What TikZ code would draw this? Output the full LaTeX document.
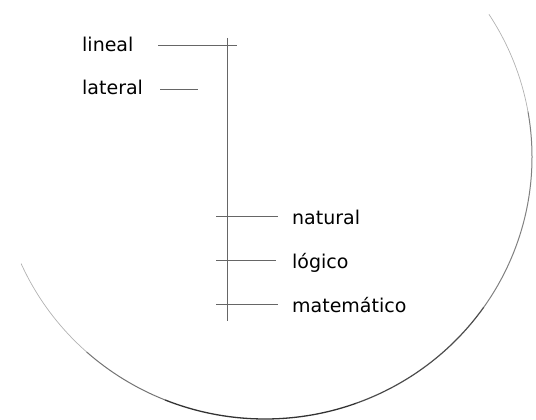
\documentclass[tikz,border=0pt]{standalone}
\usepackage{fontspec}
\setmainfont{DejaVu Sans}
\begin{document}
\begin{tikzpicture}[x=1pt,y=1pt,
  lbl/.style={anchor=base west,inner sep=0pt,text=black,font=\fontsize{19}{23}\selectfont},
  stub/.style={draw=black!60,line width=0.8pt},
]
\useasboundingbox (0,0) rectangle (536,-420);
% labels
\node[lbl] (lineal) at (82,-52) {lineal};
\node[lbl] (lateral) at (82,-95) {lateral};
\node[lbl] (natural) at (292,-224) {natural};
\node[lbl] (logico) at (292,-268) {lógico};
\node[lbl] (matematico) at (292,-312) {matemático};
% vertical bar
\coordinate (top) at (227,-38);
\coordinate (bot) at (227,-321);
\draw[stub] (top) -- (bot);
% stubs
\coordinate (a1) at (158,-45); \coordinate (a2) at (237,-45);
\coordinate (b1) at (160,-89); \coordinate (b2) at (198,-89);
\coordinate (c1) at (216,-216); \coordinate (c2) at (278,-216);
\coordinate (d1) at (216,-260); \coordinate (d2) at (276,-260);
\coordinate (e1) at (216,-304); \coordinate (e2) at (278,-304);
\draw[stub] (a1) -- (a2);
\draw[stub] (b1) -- (b2);
\draw[stub] (c1) -- (c2);
\draw[stub] (d1) -- (d2);
\draw[stub] (e1) -- (e2);
% outer arc (ellipse centre C)
\coordinate (C) at (265,-157);
\newcommand\rimarc[3]{\draw[#3] ([shift={(#1:267pt and 262pt)}]C) arc[start angle=#1,end angle=#2,x radius=267pt,y radius=262pt];}
\rimarc{33}{10}{draw=black!30,line width=0.7pt}
\rimarc{10}{-35}{draw=black!50,line width=1pt}
\rimarc{-35}{-70}{draw=black!70,line width=1.2pt}
\rimarc{-70}{-112}{draw=black!80,line width=1.3pt}
\rimarc{-112}{-132}{draw=black!55,line width=1pt}
\rimarc{-132}{-156}{draw=black!30,line width=0.7pt}
\end{tikzpicture}
\end{document}
